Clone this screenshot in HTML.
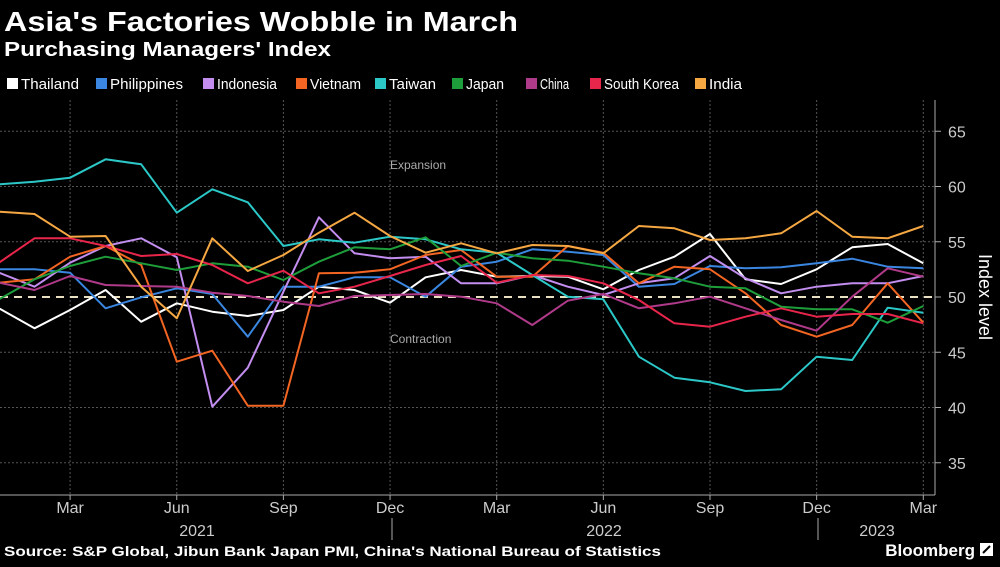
<!DOCTYPE html>
<html><head><meta charset="utf-8"><style>
body{margin:0;background:#000;width:1000px;height:562px;overflow:hidden;font-family:"Liberation Sans",sans-serif;color:#fff}
</style></head><body>
<svg width="1000" height="562" xmlns="http://www.w3.org/2000/svg" font-family="Liberation Sans, sans-serif">
<rect width="1000" height="562" fill="#000"/>
<text x="4" y="31" font-size="28" font-weight="bold" fill="#fff" textLength="514" lengthAdjust="spacingAndGlyphs">Asia's Factories Wobble in March</text>
<text x="4" y="56" font-size="20" font-weight="bold" fill="#fff" textLength="327" lengthAdjust="spacingAndGlyphs">Purchasing Managers' Index</text>
<g font-size="15" fill="#fff" id="leg"></g>
<g id="grid"></g>
<text x="390" y="169" font-size="12" fill="#aaa">Expansion</text>
<text x="390" y="343" font-size="12" fill="#aaa">Contraction</text>
<g id="series" fill="none" stroke-width="2" stroke-linejoin="round"></g>
<text transform="translate(979,297) rotate(90)" font-size="18" fill="#fff" text-anchor="middle">Index level</text>
<text x="4" y="556" font-size="14" font-weight="bold" fill="#fff" textLength="657" lengthAdjust="spacingAndGlyphs">Source: S&amp;P Global, Jibun Bank Japan PMI, China's National Bureau of Statistics</text>
<text x="975" y="556" font-size="17" font-weight="bold" fill="#fff" text-anchor="end">Bloomberg</text>
<rect x="980" y="543" width="13" height="13" fill="#fff"/>
<path d="M983 553 L990 546" stroke="#000" stroke-width="2"/>
</svg>
<script>
const NS="http://www.w3.org/2000/svg";
function el(p,t,a,txt){const e=document.createElementNS(NS,t);for(const k in a)e.setAttribute(k,a[k]);if(txt)e.textContent=txt;p.appendChild(e);return e;}
const g=document.getElementById('grid');
const yv=v=>297-(v-50)*11.05;
for(const v of [35,40,45,55,60,65]){el(g,'line',{x1:0,x2:935,y1:yv(v),y2:yv(v),stroke:'#555','stroke-dasharray':'2,2'});}
for(const v of [35,40,45,50,55,60,65]){el(g,'line',{x1:935,x2:941,y1:yv(v),y2:yv(v),stroke:'#aaa'});el(g,'text',{x:948,y:yv(v)+6,'font-size':16,fill:'#ccc'},String(v));}
el(g,'line',{x1:935,x2:935,y1:100,y2:495,stroke:'#aaa'});
el(g,'line',{x1:0,x2:935,y1:495,y2:495,stroke:'#aaa'});
const xi=i=>-1+35.55*i;
const ml=['Mar','Jun','Sep','Dec','Mar','Jun','Sep','Dec','Mar'];
ml.forEach((m,k)=>{const x=xi(2+3*k);el(g,'line',{x1:x,x2:x,y1:100,y2:495,stroke:'#555','stroke-dasharray':'2,2'});el(g,'line',{x1:x,x2:x,y1:495,y2:500,stroke:'#aaa'});el(g,'text',{x:x,y:513,'font-size':16,fill:'#ccc','text-anchor':'middle'},m);});
[392,818].forEach(x=>el(g,'line',{x1:x,x2:x,y1:518,y2:540,stroke:'#aaa'}));
el(g,'text',{x:197,y:536,'font-size':16,fill:'#ccc','text-anchor':'middle'},'2021');
el(g,'text',{x:604,y:536,'font-size':16,fill:'#ccc','text-anchor':'middle'},'2022');
el(g,'text',{x:877,y:536,'font-size':16,fill:'#ccc','text-anchor':'middle'},'2023');
el(g,'line',{x1:0,x2:935,y1:297,y2:297,stroke:'#e8e0c0','stroke-width':2,'stroke-dasharray':'8,6'});
const S=[
['Thailand','#ffffff',[505,565,510,450,545,490,515,528,510,440,450,488,412,390,410,408,410,448,390,350,282,418,432,388,322,312,370],7,79],
['Philippines','#3a86e0',[388,388,398,505,472,445,462,590,440,440,412,412,470,380,365,328,335,345,440,432,378,385,382,370,356,380,385],96,183],
['Indonesia','#c38ef0',[398,440,368,318,295,352,800,683,455,232,340,355,350,430,430,405,440,465,430,415,348,415,460,440,430,430,408],203,277],
['Vietnam','#f26522',[428,418,350,318,375,665,632,797,797,400,398,388,345,330,410,410,318,338,430,380,388,460,555,590,555,430,548],296,361],
['Taiwan','#2cc8c8',[133,125,113,58,73,218,148,187,318,298,308,290,298,328,338,405,470,478,650,713,727,753,748,650,660,503,518],375,436],
['Japan','#1e9e3a',[478,418,378,350,370,390,370,380,420,365,322,328,292,378,338,355,362,380,400,415,440,445,500,508,508,548,498],452,504],
['China','#b03a8a',[428,450,408,435,438,440,458,468,485,498,468,465,462,470,490,555,482,462,505,490,470,505,540,572,470,385,410],526,569],
['South Korea','#e8254a',[368,295,295,318,348,342,375,430,392,460,440,408,375,348,428,405,408,430,480,550,560,530,505,530,522,522,550],590,679],
['India','#f5a742',[215,222,290,288,440,535,295,393,345,278,218,288,338,310,340,315,318,340,258,265,300,295,280,213,290,295,258],695,742]
];
const sg=document.getElementById('series'),lg=document.getElementById('leg');
S.forEach(([n,c,d,lx,le])=>{el(sg,'polyline',{stroke:c,points:d.map((z,i)=>xi(i).toFixed(1)+','+(140+z/3).toFixed(1)).join(' ')});
el(lg,'rect',{x:lx,y:78,width:11,height:11,fill:c});el(lg,'text',{x:lx+14,y:89,textLength:le-lx-14,lengthAdjust:'spacingAndGlyphs'},n);});
</script>
</body></html>
